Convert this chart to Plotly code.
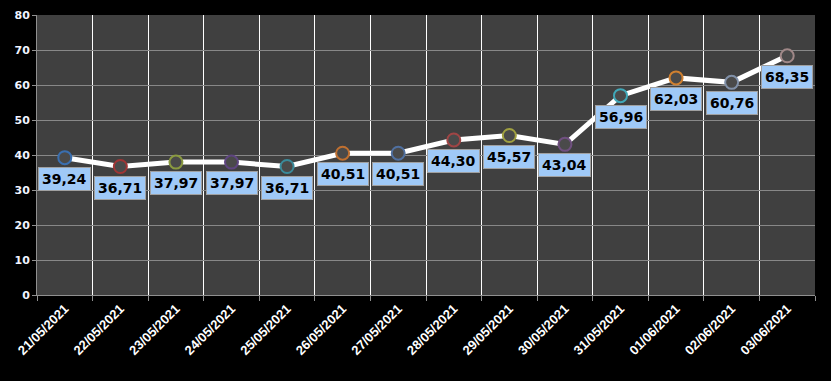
import plotly.graph_objects as go

dates = ["21/05/2021", "22/05/2021", "23/05/2021", "24/05/2021", "25/05/2021",
         "26/05/2021", "27/05/2021", "28/05/2021", "29/05/2021", "30/05/2021",
         "31/05/2021", "01/06/2021", "02/06/2021", "03/06/2021"]
values = [39.24, 36.71, 37.97, 37.97, 36.71, 40.51, 40.51, 44.30, 45.57, 43.04,
          56.96, 62.03, 60.76, 68.35]
y_ticks = [0, 10, 20, 30, 40, 50, 60, 70, 80]
marker_rims = ["#3a6fb0", "#a03535", "#8a9a40", "#5e4580", "#3a8a9a", "#c07030",
               "#5070a0", "#a04545", "#a0a040", "#705080", "#40a8b8", "#d08030",
               "#8090a8", "#a08888"]

fig = go.Figure()
fig.add_trace(go.Scatter(
    x=dates, y=values, mode="lines+markers",
    line=dict(color="white", width=5),
    marker=dict(size=13, color="#4a4a4a", line=dict(color=marker_rims, width=2)),
    hoverinfo="skip", showlegend=False,
))

for d, v in zip(dates, values):
    fig.add_annotation(
        x=d, y=v, xref="x", yref="y",
        text="<b>" + f"{v:.2f}".replace(".", ",") + "</b>",
        showarrow=False, yshift=-21,
        font=dict(family="DejaVu Sans", size=14, color="black"),
        bgcolor="#9fc9f7", bordercolor="#a0a0a0", borderwidth=1, borderpad=3,
    )

fig.update_layout(
    width=831, height=381,
    margin=dict(l=37, r=16, t=15, b=86),
    paper_bgcolor="black", plot_bgcolor="#404040",
    xaxis=dict(
        type="category", range=[-0.5, 13.5], tickson="boundaries",
        tickvals=dates, ticktext=["<b>" + d + "</b>" for d in dates],
        showgrid=True, gridcolor="white", gridwidth=1,
        ticks="outside", ticklen=5, tickcolor="#909090",
        showline=True, linecolor="#909090", linewidth=1,
        tickangle=-45, automargin=False,
        tickfont=dict(family="Liberation Sans", size=13, color="white"),
        zeroline=False,
    ),
    yaxis=dict(
        range=[0, 80], tickvals=y_ticks, automargin=False,
        ticktext=["<b>" + str(t) + "</b>" for t in y_ticks],
        showgrid=True, gridcolor="#888888", gridwidth=1,
        ticks="outside", ticklen=4, tickcolor="#909090",
        showline=True, linecolor="#909090", linewidth=1,
        tickfont=dict(family="DejaVu Sans", size=11, color="#f0f4ff"),
        zeroline=False,
    ),
)

fig.write_html("out.html", config={"displayModeBar": False},
               post_script="document.body.style.margin='0';document.body.style.background='black';")
